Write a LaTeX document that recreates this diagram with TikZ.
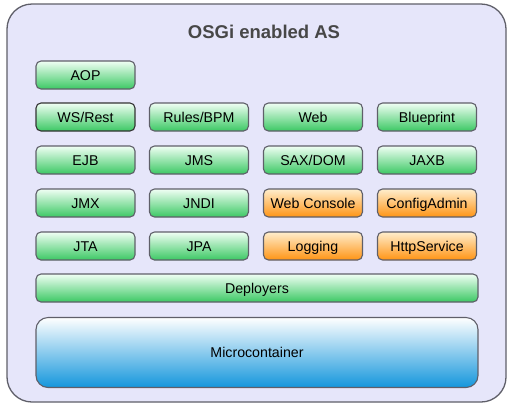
\documentclass[tikz,border=0pt]{standalone}
\usepackage{fontspec}
\setmainfont{Liberation Sans}
\usetikzlibrary{positioning}
\definecolor{asfill}{RGB}{230,230,250}
\definecolor{rim}{RGB}{95,95,105}
\definecolor{greentop}{RGB}{240,255,244}
\definecolor{greenbot}{RGB}{60,200,100}
\definecolor{orangetop}{RGB}{255,238,205}
\definecolor{orangebot}{RGB}{255,148,20}
\definecolor{bluebot}{RGB}{20,150,220}
\tikzstyle{bundle}=[draw=rim, line width=1.1pt, rounded corners=5pt, minimum width=99pt, minimum height=28pt, inner sep=0pt, text height=10.2pt, text depth=0pt, font=\fontsize{14.2}{16}\selectfont]
\tikzstyle{greenbox}=[bundle, top color=greentop, bottom color=greenbot]
\tikzstyle{orangebox}=[bundle, top color=orangetop, bottom color=orangebot]
\newcommand{\plug}{\node[greenbox]}
\newcommand{\service}{\node[orangebox]}

\begin{document}
\begin{tikzpicture}[x=1pt, y=-1pt]
\useasboundingbox (0,0) rectangle (510,408);
\draw[rim, fill=asfill, line width=1.3pt, rounded corners=25pt] (7,4) rectangle (506,402);
\node[font=\fontsize{18.5}{20}\selectfont\bfseries, text=black!72] (title) at (264,32) {OSGi enabled AS};
% rows of bundles
\plug (aop) at (85.5,75) {AOP};
\plug[draw=black!80] (ws) at (85.5,117) {WS/Rest};
\plug (rules) at (199,117) {Rules/BPM};
\plug (web) at (313,117) {Web};
\plug (blueprint) at (427,117) {Blueprint};
\plug (ejb) at (85.5,160) {EJB};
\plug (jms) at (199,160) {JMS};
\plug (sax) at (313,160) {SAX/DOM};
\plug (jaxb) at (427,160) {JAXB};
\plug (jmx) at (85.5,203) {JMX};
\plug (jndi) at (199,203) {JNDI};
\service (console) at (313,203) {Web Console};
\service (config) at (427,203) {ConfigAdmin};
\plug (jta) at (85.5,246) {JTA};
\plug (jpa) at (199,246) {JPA};
\service (logging) at (313,246) {Logging};
\service (http) at (427,246) {HttpService};
\plug[minimum width=442pt] (deployers) at (257,288) {Deployers};
\node[bundle, minimum width=442pt, minimum height=70pt, rounded corners=12pt, top color=white, bottom color=bluebot] (micro) at (257,352.5) {Microcontainer};
\end{tikzpicture}
\end{document}
